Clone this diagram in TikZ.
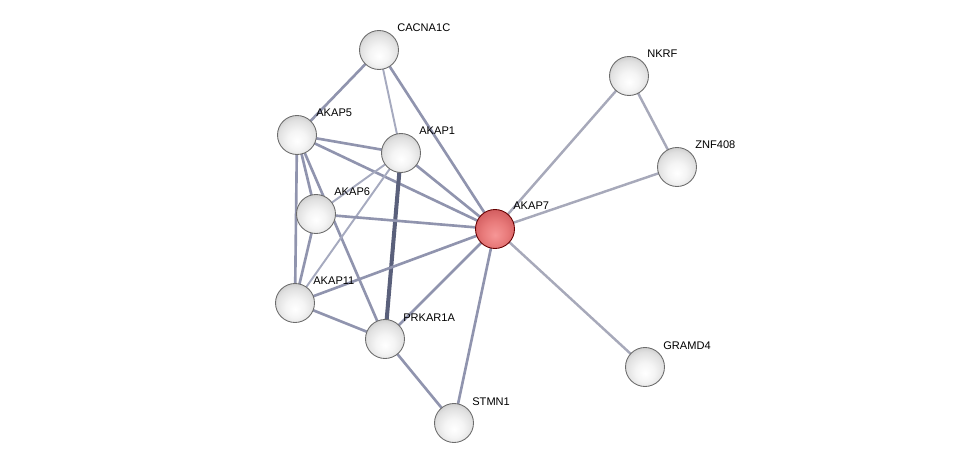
\documentclass[tikz,border=0pt]{standalone}
\usepackage{fontspec}
\setmainfont{Liberation Sans}
\usetikzlibrary{backgrounds}
\definecolor{edgeblue}{HTML}{9094AE}
\definecolor{edgelight}{HTML}{A6AABF}
\definecolor{edgegrey}{HTML}{A7A9BA}
\definecolor{edgedark}{HTML}{5A607B}
\pgfdeclareradialshading{greybead}{\pgfpoint{0bp}{-8bp}}{%
  color(0bp)=(white); color(12bp)=(white!96!black); color(24bp)=(white!88!black);
  color(32bp)=(white!78!black); color(38bp)=(white!66!black); color(44bp)=(white!54!black); color(60bp)=(white!45!black)}
\pgfdeclareradialshading{redbead}{\pgfpoint{0bp}{-8bp}}{%
  color(0bp)=(rgb,255:red,246;green,150;blue,150); color(16bp)=(rgb,255:red,232;green,122;blue,122);
  color(28bp)=(rgb,255:red,212;green,96;blue,98); color(38bp)=(rgb,255:red,176;green,66;blue,68);
  color(60bp)=(rgb,255:red,140;green,44;blue,46)}
\tikzset{
  prot/.style={circle, minimum size=0.78cm, inner sep=0pt, draw=gray!85!black, line width=0.5pt, shading=greybead},
  query/.style={prot, draw=red!40!black, shading=redbead},
  lbl/.style={anchor=base west, inner sep=0pt, font=\fontsize{6.3}{7}\selectfont},
  link/.style={draw=edgeblue, line width=1.5pt},
  weak/.style={draw=edgelight, line width=1.1pt},
  side/.style={draw=edgegrey, line width=1.4pt},
  strong/.style={draw=edgedark, line width=2.3pt}
}
\begin{document}
\begin{tikzpicture}[x=0.02cm, y=-0.02cm, line cap=round, line join=round]
\useasboundingbox (0,0) rectangle (976,469);
% proteins
\node[prot]  (cacna1c) at (379,50)  {};
\node[prot]  (nkrf)    at (629,76)  {};
\node[prot]  (akap5)   at (297,135) {};
\node[prot]  (akap1)   at (401,153) {};
\node[prot]  (znf408)  at (677,167) {};
\node[prot]  (akap6)   at (316,214) {};
\node[query] (akap7)   at (495,229) {};
\node[prot]  (akap11)  at (295,303) {};
\node[prot]  (prkar1a) at (385,339) {};
\node[prot]  (gramd4)  at (645,367) {};
\node[prot]  (stmn1)   at (454,423) {};
% names
\node[lbl] (cacna1c-l) at (397,32)  {CACNA1C};
\node[lbl] (nkrf-l)    at (647,58)  {NKRF};
\node[lbl] (akap5-l)   at (316,117) {AKAP5};
\node[lbl] (akap1-l)   at (419,135) {AKAP1};
\node[lbl] (znf408-l)  at (695,149) {ZNF408};
\node[lbl] (akap6-l)   at (334,196) {AKAP6};
\node[lbl] (akap7-l)   at (513,210) {AKAP7};
\node[lbl] (akap11-l)  at (313,285) {AKAP11};
\node[lbl] (prkar1a-l) at (403,321) {PRKAR1A};
\node[lbl] (gramd4-l)  at (663,349) {GRAMD4};
\node[lbl] (stmn1-l)   at (472,405) {STMN1};
% interactions
\begin{pgfonlayer}{background}
\draw[link] (cacna1c.center) -- (akap5.center);
\draw[link] (cacna1c.center) -- (akap7.center);
\draw[weak] (cacna1c.center) -- (akap1.center);
\draw[link] (akap5.center) -- (akap1.center);
\draw[link] (akap5.center) -- (akap7.center);
\draw[link] (akap5.center) -- (akap6.center);
\draw[link] (akap5.center) -- (akap11.center);
\draw[link] (akap5.center) -- (prkar1a.center);
\draw[link] (akap1.center) -- (akap7.center);
\draw[weak] (akap1.center) -- (akap6.center);
\draw[weak] (akap1.center) -- (akap11.center);
\draw[strong] (akap1.center) -- (prkar1a.center);
\draw[link] (akap6.center) -- (akap7.center);
\draw[link] (akap6.center) -- (akap11.center);
\draw[link] (akap11.center) -- (akap7.center);
\draw[link] (akap11.center) -- (prkar1a.center);
\draw[link] (prkar1a.center) -- (akap7.center);
\draw[link] (prkar1a.center) -- (stmn1.center);
\draw[link] (stmn1.center) -- (akap7.center);
\draw[side] (nkrf.center) -- (akap7.center);
\draw[side] (nkrf.center) -- (znf408.center);
\draw[side] (znf408.center) -- (akap7.center);
\draw[side] (gramd4.center) -- (akap7.center);
\end{pgfonlayer}
\end{tikzpicture}
\end{document}
